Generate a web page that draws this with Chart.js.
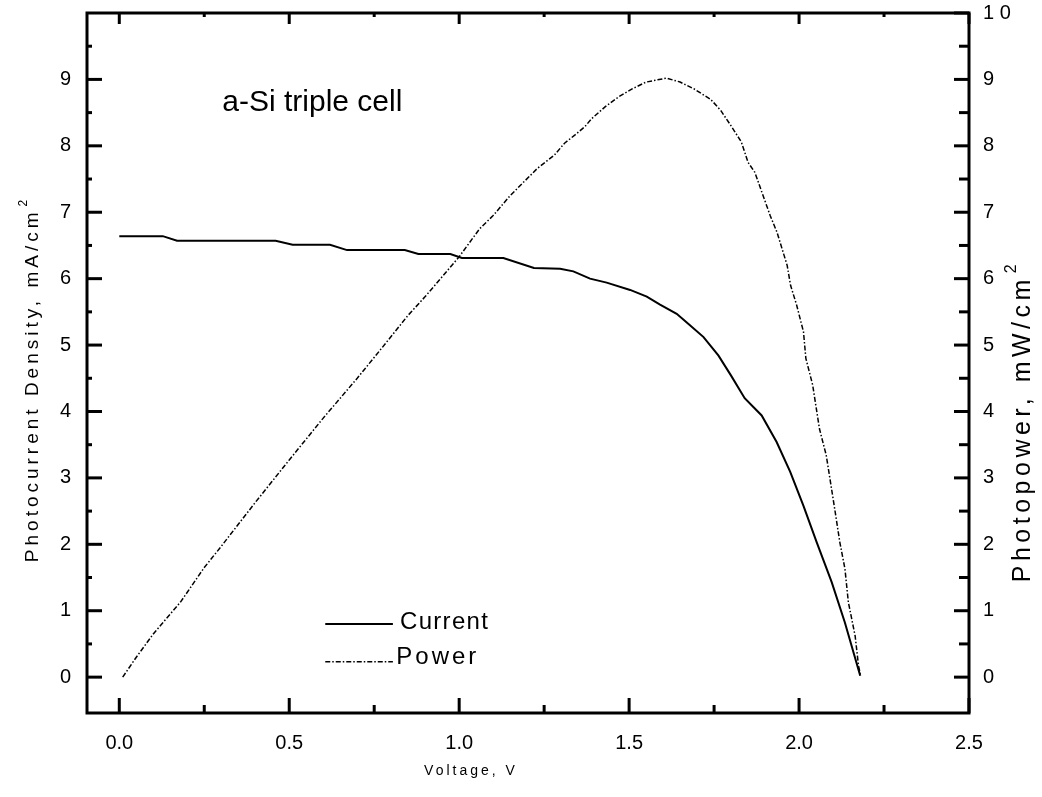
<!DOCTYPE html>
<html>
<head>
<meta charset="utf-8">
<script src="https://cdn.jsdelivr.net/npm/chart.js@4.4.1/dist/chart.umd.min.js"></script>
<style>
  html, body { margin: 0; padding: 0; background: #fff; }
  canvas { display: block; }
</style>
</head>
<body>
<canvas id="chart" width="1042" height="797"></canvas>
<script>
const FONT = '"Liberation Sans", Arial, Helvetica, sans-serif';

// photocurrent density (mA/cm2) vs voltage (V)
const currentV = [0.0, 0.128, 0.17, 0.46, 0.51, 0.62, 0.67, 0.84, 0.88, 0.974, 1.008, 1.13, 1.22, 1.297,
  1.336, 1.385, 1.434, 1.503, 1.552, 1.591, 1.64, 1.679, 1.719, 1.763, 1.80, 1.84, 1.89, 1.934,
  1.974, 2.013, 2.052, 2.096, 2.135, 2.18];
const currentJ = [6.64, 6.64, 6.57, 6.57, 6.51, 6.51, 6.43, 6.43, 6.37, 6.37, 6.31, 6.31, 6.16, 6.15,
  6.11, 6.0, 5.94, 5.83, 5.73, 5.61, 5.47, 5.30, 5.12, 4.84, 4.54, 4.20, 3.94, 3.54,
  3.09, 2.58, 2.03, 1.43, 0.82, 0.02];

// photopower (mW/cm2) vs voltage (V)
const powerV = [0.01, 0.05, 0.10, 0.18, 0.25, 0.30, 0.40, 0.50, 0.60, 0.70, 0.77, 0.85, 0.90, 1.00,
  1.06, 1.10, 1.15, 1.23, 1.28, 1.31, 1.34, 1.37, 1.39, 1.43, 1.47, 1.51, 1.55, 1.61, 1.65,
  1.69, 1.74, 1.77, 1.80, 1.83, 1.85, 1.87, 1.89, 1.915, 1.935, 1.95, 1.965, 1.975, 1.993,
  2.013, 2.02, 2.04, 2.06, 2.08, 2.105, 2.12, 2.135, 2.145, 2.165, 2.175, 2.18];
const powerP = [0.0, 0.30, 0.65, 1.13, 1.65, 1.97, 2.63, 3.27, 3.90, 4.50, 4.94, 5.45, 5.73, 6.33,
  6.75, 6.95, 7.25, 7.66, 7.86, 8.04, 8.16, 8.29, 8.41, 8.59, 8.74, 8.86, 8.96, 9.02, 8.96,
  8.86, 8.70, 8.53, 8.30, 8.06, 7.75, 7.60, 7.31, 6.95, 6.70, 6.45, 6.20, 5.90, 5.60,
  5.20, 4.80, 4.40, 3.74, 3.34, 2.53, 2.03, 1.63, 1.13, 0.62, 0.17, 0.05];

const xTicks = [0, 0.5, 1.0, 1.5, 2.0, 2.5];
const xMinor = [0.25, 0.75, 1.25, 1.75, 2.25];
const yLeftTicks = [0, 1, 2, 3, 4, 5, 6, 7, 8, 9];
const yRightTicks = [0, 1, 2, 3, 4, 5, 6, 7, 8, 9, 10];
const yMinor = [0.5, 1.5, 2.5, 3.5, 4.5, 5.5, 6.5, 7.5, 8.5, 9.5];

const toPoints = (xs, ys) => xs.map((x, i) => ({ x: x, y: ys[i] }));

// frame, inward ticks, titles and legend
const decorations = {
  id: 'decorations',
  afterDraw(chart) {
    const ctx = chart.ctx;
    const a = chart.chartArea;
    const sx = chart.scales.x, sy = chart.scales.y, sr = chart.scales.y2;
    ctx.save();
    ctx.strokeStyle = '#000';
    ctx.lineWidth = 3;
    ctx.lineCap = 'butt';
    ctx.strokeRect(a.left, a.top, a.right - a.left, a.bottom - a.top);

    const seg = (x1, y1, x2, y2) => { ctx.beginPath(); ctx.moveTo(x1, y1); ctx.lineTo(x2, y2); ctx.stroke(); };
    xTicks.forEach(v => {
      const px = sx.getPixelForValue(v);
      seg(px, a.bottom, px, a.bottom - 15);
      seg(px, a.top, px, a.top + 11);
    });
    xMinor.forEach(v => {
      const px = sx.getPixelForValue(v);
      seg(px, a.bottom, px, a.bottom - 8);
      seg(px, a.top, px, a.top + 4);
    });
    yLeftTicks.forEach(v => {
      const py = sy.getPixelForValue(v);
      seg(a.left, py, a.left + 15, py);
    });
    yRightTicks.forEach(v => {
      const py = sr.getPixelForValue(v);
      seg(a.right, py, a.right - 15, py);
    });
    yMinor.forEach(v => {
      seg(a.left, sy.getPixelForValue(v), a.left + 5, sy.getPixelForValue(v));
      seg(a.right, sr.getPixelForValue(v), a.right - 10, sr.getPixelForValue(v));
    });

    ctx.fillStyle = '#000';
    ctx.textBaseline = 'alphabetic';

    // plot label
    ctx.font = '30px ' + FONT;
    ctx.textAlign = 'left';
    ctx.fillText('a-Si triple cell', sx.getPixelForValue(0.303), sy.getPixelForValue(8.52));

    // legend
    const cur = chart.data.datasets[0], pow = chart.data.datasets[1];
    const lx1 = sx.getPixelForValue(0.606), lx2 = sx.getPixelForValue(0.805);
    ctx.lineWidth = cur.borderWidth;
    seg(lx1, sy.getPixelForValue(0.80), lx2, sy.getPixelForValue(0.80));
    ctx.lineWidth = pow.borderWidth;
    ctx.setLineDash(pow.borderDash);
    seg(lx1, sy.getPixelForValue(0.23), lx2, sy.getPixelForValue(0.23));
    ctx.setLineDash([]);
    ctx.font = '24px ' + FONT;
    ctx.letterSpacing = '1.3px';
    ctx.fillText('Current', sx.getPixelForValue(0.826), sy.getPixelForValue(0.72));
    ctx.letterSpacing = '3px';
    ctx.fillText('Power', sx.getPixelForValue(0.815), sy.getPixelForValue(0.195));

    // x title
    ctx.font = '14px ' + FONT;
    ctx.letterSpacing = '3px';
    ctx.textAlign = 'center';
    ctx.fillText('Voltage, V', 471, 775);

    // rotated y titles with superscript
    const vTitle = (text, sup, cx, cy, size, sp) => {
      ctx.save();
      ctx.translate(cx, cy);
      ctx.rotate(-Math.PI / 2);
      ctx.font = size + 'px ' + FONT;
      ctx.letterSpacing = sp + 'px';
      ctx.textAlign = 'left';
      const w = ctx.measureText(text).width;
      ctx.font = Math.round(size * 0.65) + 'px ' + FONT;
      const ws = ctx.measureText(sup).width;
      const x0 = -(w + ws) / 2;
      ctx.font = size + 'px ' + FONT;
      ctx.fillText(text, x0, size * 0.36);
      ctx.font = Math.round(size * 0.65) + 'px ' + FONT;
      ctx.fillText(sup, x0 + w + 2, -size * 0.2);
      ctx.restore();
    };
    vTitle('Photocurrent Density, mA/cm', '2', 31, 380, 19, 4);
    vTitle('Photopower, mW/cm', '2', 1021, 422, 25, 4.5);
    ctx.restore();
  }
};

const noPad = s => { s.paddingTop = 0; s.paddingBottom = 0; };

new Chart(document.getElementById('chart'), {
  type: 'line',
  data: {
    datasets: [
      {
        label: 'Current',
        data: toPoints(currentV, currentJ),
        yAxisID: 'y',
        borderColor: '#000',
        borderWidth: 2,
        pointRadius: 0,
        tension: 0
      },
      {
        label: 'Power',
        data: toPoints(powerV, powerP),
        yAxisID: 'y2',
        borderColor: '#000',
        borderWidth: 1.5,
        borderDash: [5, 2, 1.5, 2],
        pointRadius: 0,
        tension: 0
      }
    ]
  },
  options: {
    responsive: false,
    animation: false,
    devicePixelRatio: 1,
    layout: { padding: { top: 13, left: 0, right: 0, bottom: 0 } },
    plugins: { legend: { display: false }, tooltip: { enabled: false } },
    scales: {
      x: {
        type: 'linear',
        position: 'bottom',
        min: -0.095,
        max: 2.5,
        afterBuildTicks: s => { s.ticks = xTicks.map(v => ({ value: v })); },
        afterFit: s => { s.height = 84; s.paddingLeft = 0; s.paddingRight = 0; },
        grid: { display: false, drawTicks: false },
        border: { display: false },
        ticks: {
          autoSkip: false, maxRotation: 0, padding: 18, color: '#000',
          font: { family: FONT, size: 20 },
          callback: v => Number(v).toFixed(1)
        }
      },
      y: {
        type: 'linear',
        position: 'left',
        min: -0.54,
        max: 10,
        afterBuildTicks: s => { s.ticks = yLeftTicks.map(v => ({ value: v })); },
        afterFit: s => { s.width = 87; noPad(s); },
        grid: { display: false, drawTicks: false },
        border: { display: false },
        ticks: {
          autoSkip: false, padding: 16, color: '#000',
          font: { family: FONT, size: 20 },
          callback: v => String(v)
        }
      },
      y2: {
        type: 'linear',
        position: 'right',
        min: -0.54,
        max: 10,
        afterBuildTicks: s => { s.ticks = yRightTicks.map(v => ({ value: v })); },
        afterFit: s => { s.width = 73; noPad(s); },
        grid: { display: false, drawTicks: false },
        border: { display: false },
        ticks: {
          autoSkip: false, padding: 14, color: '#000',
          font: { family: FONT, size: 20 },
          callback: v => (v === 10 ? '1 0' : String(v))
        }
      }
    }
  },
  plugins: [decorations]
});
</script>
</body>
</html>
